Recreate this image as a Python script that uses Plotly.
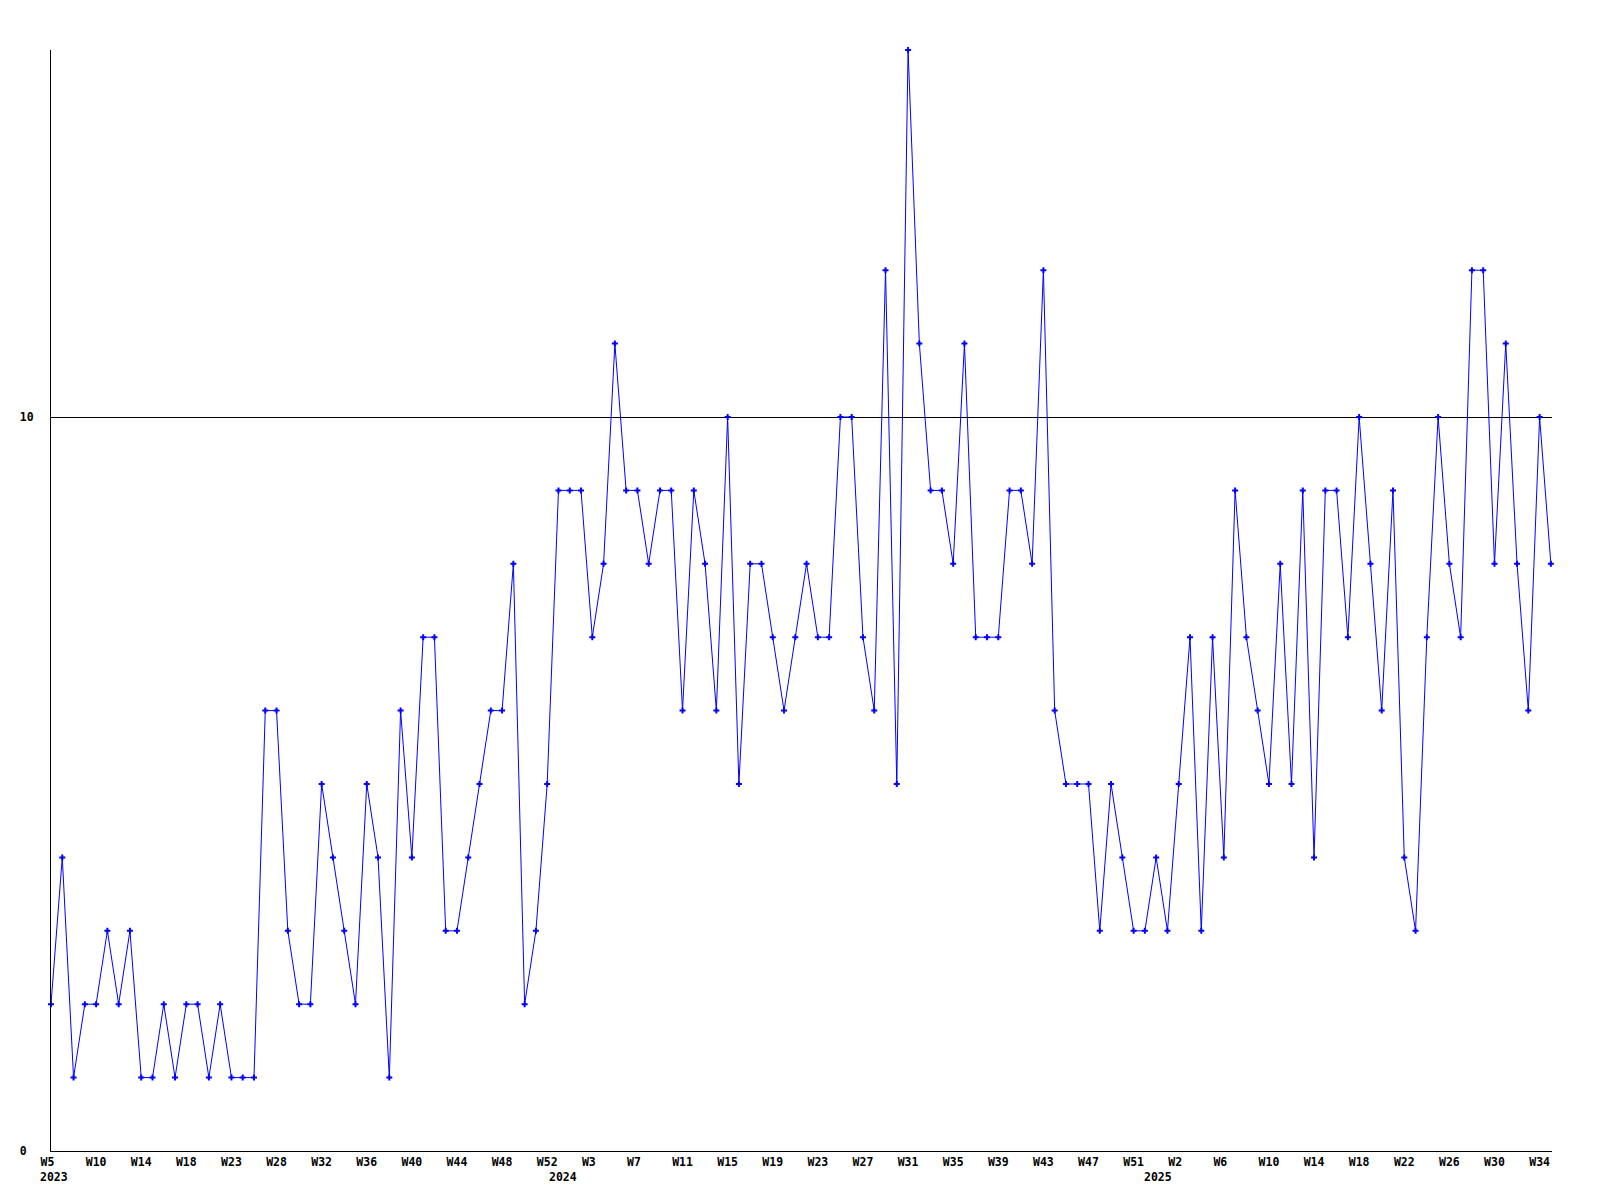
import plotly.graph_objects as go

# Weekly values, 2023 W5 .. 2025 (134 points)
values = [
    2, 4, 1, 2, 2, 3, 2, 3, 1, 1, 2, 1, 2, 2, 1, 2, 1, 1, 1, 6,
    6, 3, 2, 2, 5, 4, 3, 2, 5, 4, 1, 6, 4, 7, 7, 3, 3, 4, 5, 6,
    6, 8, 2, 3, 5, 9, 9, 9, 7, 8, 11, 9, 9, 8, 9, 9, 6, 9, 8, 6,
    10, 5, 8, 8, 7, 6, 7, 8, 7, 7, 10, 10, 7, 6, 12, 5, 15, 11, 9, 9,
    8, 11, 7, 7, 7, 9, 9, 8, 12, 6, 5, 5, 5, 3, 5, 4, 3, 3, 4, 3,
    5, 7, 3, 7, 4, 9, 7, 6, 5, 8, 5, 9, 4, 9, 9, 7, 10, 8, 6, 9,
    4, 3, 7, 10, 8, 7, 12, 12, 8, 11, 8, 6, 10, 8,
]
positions = list(range(len(values)))

# Tick labels (every 4th point)
tick_labels = [
    "W5", "W10", "W14", "W18", "W23", "W28", "W32", "W36", "W40", "W44",
    "W48", "W52", "W3", "W7", "W11", "W15", "W19", "W23", "W27", "W31",
    "W35", "W39", "W43", "W47", "W51", "W2", "W6", "W10", "W14", "W18",
    "W22", "W26", "W30", "W34",
]
tick_positions = [i * 4 for i in range(len(tick_labels))]

year_labels = ["2023", "2024", "2025"]
year_positions = [0.27, 45.4, 98.2]

y_ticks = [0, 10]
y_ticktext = ["0\u00a0", "10"]

NBSP = "\u00a0"
padded = [t + NBSP * (3 - len(t)) for t in tick_labels]

font = dict(family="DejaVu Sans Mono", size=11.5, color="black", weight="bold")

fig = go.Figure()
fig.add_trace(go.Scatter(
    x=positions, y=values, mode="lines+markers",
    line=dict(color="#0000FF", width=1),
    marker=dict(symbol="cross", size=5, color="#0000FF", line=dict(width=0)),
    cliponaxis=False, hoverinfo="skip", showlegend=False,
))

for lbl, pos in zip(year_labels, year_positions):
    fig.add_annotation(
        x=pos, y=0, xref="x", yref="y", text=lbl, showarrow=False,
        yanchor="middle", xanchor="center", yshift=-26, font=font,
    )

fig.update_layout(
    width=1600, height=1200,
    margin=dict(l=43, r=56, t=42, b=57),
    paper_bgcolor="white", plot_bgcolor="white",
    showlegend=False,
)
fig.update_xaxes(
    range=[0, 133.1], tickmode="array", tickvals=tick_positions, ticktext=padded,
    showgrid=False, zeroline=False, showline=True, linecolor="black", linewidth=1,
    ticks="", tickfont=font, ticklabelstandoff=0,
)
fig.update_yaxes(
    range=[0, 15], tickmode="array", tickvals=y_ticks, ticktext=y_ticktext,
    showgrid=True, gridcolor="black", gridwidth=1, zeroline=False,
    showline=True, linecolor="black", linewidth=1, ticks="", tickfont=font,
    ticklabelstandoff=14,
)

fig.write_html("out.html")
